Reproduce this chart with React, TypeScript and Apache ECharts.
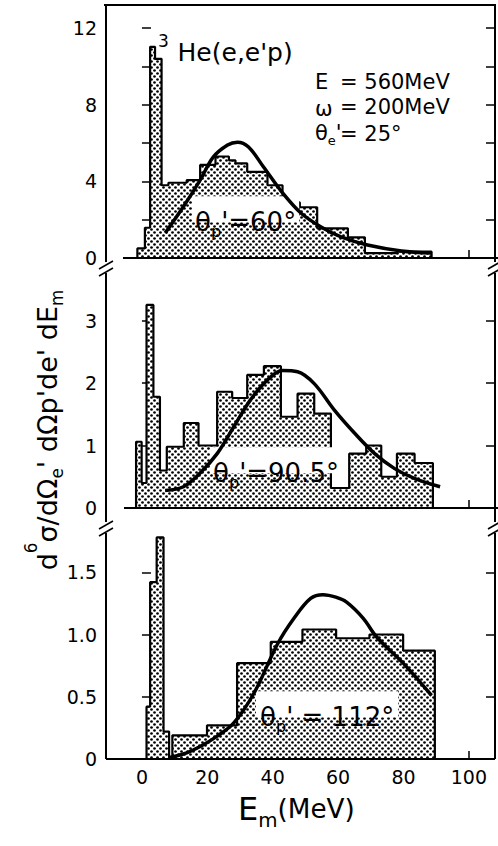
import React, { useEffect, useRef } from 'react';
import * as echarts from 'echarts';

// ---------------- data ----------------
const xTickLabels = [0, 20, 40, 60, 80, 100];
const xMinorTicks = [20, 40, 60, 80, 100];

// Panel 1 : theta_p' = 60 deg  (histogram bin edges in MeV, heights)
const edges60 = [-1.4, 0.9, 2.5, 4.0, 6.0, 8.1, 13.7, 17.8, 22.5, 26.6, 28.6, 32.2, 38.4, 43, 48.3, 53.6, 63, 68.2, 78, 88.6];
const counts60 = [0.5, 1.58, 11.03, 10.4, 3.8, 3.93, 4.07, 4.86, 5.3, 5.1, 4.94, 4.5, 3.8, 2.9, 2.65, 1.55, 1.08, 0.25, 0.33];
const curveE60 = [7.1, 12.6, 17.8, 21.8, 26.2, 29.2, 32.6, 37.2, 43, 48.6, 54.8, 60.9, 69, 79.4, 88.6];
const curveV60 = [1.3, 2.66, 4.07, 5.27, 5.9, 6.05, 5.8, 4.75, 3.4, 2.35, 1.62, 1.1, 0.68, 0.37, 0.26];
const yLabels60 = [0, 4, 8, 12];
const yTicks60 = [2, 4, 6, 8, 10, 12];

// Panel 2 : theta_p' = 90.5 deg
const edges90 = [-1.8, -0.1, 1.4, 3.5, 5.5, 7.6, 12.8, 17.3, 23, 27.6, 32.2, 37.3, 42.5, 47.6, 52.7, 57.8, 63.4, 68.6, 73.2, 78, 83.4, 89];
const counts90 = [1.06, 0.4, 3.25, 1.78, 0.6, 0.98, 1.36, 1.0, 1.86, 1.76, 2.13, 2.27, 1.46, 1.83, 1.51, 0.32, 0.87, 1.0, 0.5, 0.87, 0.72];
const curveE90 = [7.1, 12.7, 17.8, 23, 28.1, 33.2, 38.4, 43, 47.6, 52.7, 58.8, 65, 71.2, 77.3, 83.5, 91.2];
const curveV90 = [0.28, 0.34, 0.56, 0.87, 1.3, 1.73, 2.05, 2.2, 2.18, 1.99, 1.57, 1.2, 0.87, 0.63, 0.47, 0.34];
const yLabels90 = [0, 1, 2, 3];
const yTicks90 = [1, 2, 3];

// Panel 3 : theta_p' = 112 deg
const edges112 = [1.4, 2.5, 4.5, 6.6, 8.3, 9.3, 19.9, 29.1, 39.4, 49.1, 59.4, 69.6, 79.9, 89.6];
const counts112 = [0.42, 1.42, 1.78, 0.22, 0.0, 0.19, 0.27, 0.77, 0.94, 1.04, 0.97, 1.0, 0.87];
const curveE112 = [8.1, 13.7, 17.8, 22.8, 28.1, 34.3, 41.4, 46.5, 51.6, 55.4, 59.3, 62.6, 67.7, 71.8, 79.9, 88.6];
const curveV112 = [0.01, 0.05, 0.1, 0.18, 0.29, 0.53, 0.92, 1.13, 1.29, 1.32, 1.3, 1.26, 1.13, 0.98, 0.77, 0.51];
const yLabels112 = [0, 0.5, 1.0, 1.5];
const yTicks112 = [0.5, 1.0, 1.5];

// ---------------- layout ----------------
const W = 498;
const H = 846;
const FONT = '"DejaVu Sans", "Liberation Sans", sans-serif';
const AX_L = 106;
const AX_R = 495;
const TOP = 5;
const B1 = 258;
const B2 = 508;
const B3 = 759;
const P3H = 249;
const X_MIN = -11;
const X_MAX = 108;

function stepPoints(edges: number[], vals: number[]) {
  const pts: number[][] = [[edges[0], 0]];
  vals.forEach((v, i) => {
    pts.push([edges[i], v]);
    pts.push([edges[i + 1], v]);
  });
  pts.push([edges[edges.length - 1], 0]);
  return pts;
}

function zipXY(xs: number[], ys: number[]) {
  return xs.map((x, i) => [x, ys[i]]);
}

function makePattern() {
  const c = document.createElement('canvas');
  c.width = 6;
  c.height = 6;
  const ctx = c.getContext('2d')!;
  ctx.fillStyle = '#ffffff';
  ctx.fillRect(0, 0, 6, 6);
  ctx.fillStyle = '#000000';
  ctx.beginPath();
  ctx.arc(1.5, 1.5, 1.35, 0, Math.PI * 2);
  ctx.fill();
  ctx.beginPath();
  ctx.arc(4.5, 4.5, 1.35, 0, Math.PI * 2);
  ctx.fill();
  return c;
}

function richStyles(S: number) {
  return {
    n: { fontSize: S, fontFamily: FONT, fill: '#000', verticalAlign: 'top', padding: [0.5 * S, 0, 0, 0], lineHeight: S },
    m: { fontSize: 0.82 * S, fontFamily: FONT, fill: '#000', verticalAlign: 'top', padding: [0.6 * S, 0, 0, 0], lineHeight: 0.82 * S },
    sub: { fontSize: 0.62 * S, fontFamily: FONT, fill: '#000', verticalAlign: 'top', padding: [1.04 * S, 0, 0, 0], lineHeight: 0.62 * S },
    sup: { fontSize: 0.62 * S, fontFamily: FONT, fill: '#000', verticalAlign: 'top', padding: [0.07 * S, 0, 0, 0], lineHeight: 0.62 * S },
    iso: { fontSize: 0.68 * S, fontFamily: FONT, fill: '#000', verticalAlign: 'top', padding: [0.2 * S, 0.35 * S, 0, 0], lineHeight: 0.68 * S },
  };
}

function richText(x: number, capTop: number, S: number, text: string, extra: any = {}) {
  return {
    type: 'text',
    x,
    y: capTop - 0.57 * S,
    z: 50,
    style: {
      text,
      rich: richStyles(S),
      align: 'left',
      verticalAlign: 'top',
      ...extra,
    },
  };
}

function line(x1: number, y1: number, x2: number, y2: number, w = 2) {
  return {
    type: 'line',
    z: 60,
    shape: { x1, y1, x2, y2 },
    style: { stroke: '#000', lineWidth: w },
  };
}

function breakMark(x: number, y: number) {
  return [line(x - 7, y + 3, x + 7, y - 5, 1.6), line(x - 7, y + 10, x + 7, y + 2, 1.6)];
}

export default function App() {
  const ref = useRef<HTMLDivElement>(null);

  useEffect(() => {
    if (!ref.current) return;
    document.body.style.margin = '0';
    const chart = echarts.init(ref.current, undefined, { renderer: 'svg', width: W, height: H });
    const pattern = { image: makePattern(), repeat: 'repeat', imageWidth: 6, imageHeight: 6 } as any;

    const gw = AX_R - AX_L;
    const grids = [
      { left: AX_L, top: TOP, width: gw, height: B1 - TOP },
      { left: AX_L, top: B1, width: gw, height: B2 - B1 },
      { left: AX_L, top: B3 - P3H, width: gw, height: P3H },
    ];
    const yMax = [(B1 - TOP) / 19.15, 4, 2];
    const yLabelSets = [yLabels60, yLabels90, yLabels112];
    const yTickSets = [yTicks60, yTicks90, yTicks112];

    const labelStyle = { fontSize: 19, fontFamily: FONT, color: '#000' };

    const xAxis = [0, 1, 2].map((i) => ({
      type: 'value',
      gridIndex: i,
      min: X_MIN,
      max: X_MAX,
      axisLine: { show: false },
      splitLine: { show: false },
      axisTick: { show: true, inside: true, length: 8, customValues: xMinorTicks, lineStyle: { color: '#000', width: 1.5 } },
      axisLabel: { show: i === 2, customValues: xTickLabels, margin: 8, ...labelStyle },
    }));

    const yAxis: any[] = [];
    [0, 1, 2].forEach((i) => {
      yAxis.push({
        type: 'value',
        gridIndex: i,
        position: 'left',
        min: 0,
        max: yMax[i],
        axisLine: { show: false },
        splitLine: { show: false },
        axisTick: { show: true, inside: true, length: 9, customValues: yTickSets[i], lineStyle: { color: '#000', width: 1.5 } },
        axisLabel: {
          show: true,
          customValues: yLabelSets[i],
          margin: 9,
          formatter: (v: number) => (i === 2 && v !== 0 ? v.toFixed(1) : String(v)),
          ...labelStyle,
        },
      });
      yAxis.push({
        type: 'value',
        gridIndex: i,
        position: 'right',
        min: 0,
        max: yMax[i],
        axisLine: { show: false },
        splitLine: { show: false },
        axisTick: { show: true, inside: true, length: 9, customValues: yTickSets[i], lineStyle: { color: '#000', width: 1.5 } },
        axisLabel: { show: false },
      });
    });

    const hists = [
      stepPoints(edges60, counts60),
      stepPoints(edges90, counts90),
      stepPoints(edges112, counts112),
    ];
    const curves = [
      zipXY(curveE60, curveV60),
      zipXY(curveE90, curveV90),
      zipXY(curveE112, curveV112),
    ];

    const series: any[] = [];
    [0, 1, 2].forEach((i) => {
      series.push({
        type: 'line',
        xAxisIndex: i,
        yAxisIndex: i * 2,
        data: hists[i],
        symbol: 'none',
        silent: true,
        z: 2,
        lineStyle: { color: '#000', width: 2.2 },
        areaStyle: { color: pattern, opacity: 1 },
      });
      series.push({
        type: 'line',
        xAxisIndex: i,
        yAxisIndex: i * 2,
        data: curves[i],
        symbol: 'none',
        silent: true,
        smooth: 0.35,
        z: 80,
        lineStyle: { color: '#000', width: 3.5 },
      });
    });

    const graphics: any[] = [
      // frame
      line(AX_L - 2, TOP, AX_R + 1, TOP, 2),
      line(AX_L, TOP, AX_L, 262, 2),
      line(AX_L, 273, AX_L, 522, 2),
      line(AX_L, 533, AX_L, B3, 2),
      line(AX_R, TOP, AX_R, 262, 2),
      line(AX_R, 273, AX_R, 522, 2),
      line(AX_R, 533, AX_R, B3, 2),
      line(123, B1, W, B1, 2.2),
      line(124, B2, W, B2, 2.2),
      line(AX_L, B3, AX_R, B3, 2.2),
      ...breakMark(AX_L, 266),
      ...breakMark(AX_L, 526),
      ...breakMark(AX_R, 266),
      ...breakMark(AX_R, 526),
      // texts
      richText(158, 42, 25, "{iso|3}{n|He(e,e'p)}"),
      richText(315, 73, 21, '{n|E}'),
      richText(315, 100, 21, '{n|ω}'),
      richText(315, 124, 21, "{n|θ}{sub|e}{n|'}"),
      richText(340, 73, 21, '{n|= 560MeV}'),
      richText(340, 98, 21, '{n|= 200MeV}'),
      richText(340, 125, 21, '{n|= 25°}'),
      richText(192, 211, 26, "{n|θ}{sub|p}{n|'=60°}", { backgroundColor: '#fff', padding: [0, 3, 0, 3] }),
      richText(210, 462, 26, "{n|θ}{sub|p}{n|'=90.5°}", { backgroundColor: '#fff', padding: [0, 3, 0, 3] }),
      richText(256, 706, 26, "{n|θ}{sub|p}{n|' = 112°}", { backgroundColor: '#fff', padding: [0, 4, 0, 4] }),
      // x-axis title
      richText(238, 795, 32, '{n|E}{sub|m}{m|(MeV)}'),
      // y-axis title (rotated)
      {
        type: 'text',
        x: 34,
        y: 430,
        rotation: Math.PI / 2,
        z: 50,
        style: {
          text: "{n|d}{sup|6}{n|σ/dΩ}{sub|e}{n|' dΩ}{n|p}{n|'de' dE}{sub|m}",
          rich: richStyles(27),
          align: 'center',
          verticalAlign: 'middle',
        },
      },
    ];

    chart.setOption({
      animation: false,
      backgroundColor: '#fff',
      grid: grids,
      xAxis,
      yAxis,
      series,
      graphic: { elements: graphics },
    });

    return () => chart.dispose();
  }, []);

  return <div ref={ref} style={{ position: 'fixed', left: 0, top: 0, width: W, height: H, background: '#fff' }} />;
}
